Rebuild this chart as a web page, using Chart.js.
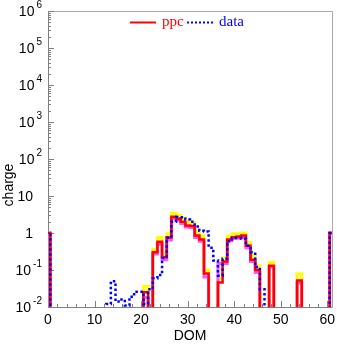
<!DOCTYPE html>
<html>
<head>
<meta charset="utf-8">
<script src="https://cdn.jsdelivr.net/npm/chart.js@4.4.0/dist/chart.umd.min.js"></script>
<style>
  html, body { margin: 0; padding: 0; background: #fff; }
  canvas { display: block; }
</style>
</head>
<body>
<canvas id="domChart" width="337" height="344"></canvas>
<script>
// DOM number of each bin (bin i spans i-0.5 .. i+0.5)
const doms = [
  0, 1, 2, 3, 4, 5, 6, 7, 8, 9,
  10, 11, 12, 13, 14, 15, 16, 17, 18, 19,
  20, 21, 22, 23, 24, 25, 26, 27, 28, 29,
  30, 31, 32, 33, 34, 35, 36, 37, 38, 39,
  40, 41, 42, 43, 44, 45, 46, 47, 48, 49,
  50, 51, 52, 53, 54, 55, 56, 57, 58, 59,
  60, 61
];

// ppc (red)
const ppc = [
  1, 0, 0, 0, 0, 0, 0, 0, 0, 0,
  0, 0, 0, 0, 0, 0, 0, 0, 0, 0,
  0, 0.025, 0, 0.30, 0.58, 0.22, 0.75, 2.75, 2.4, 2.0,
  1.6, 1.55, 0.85, 0.67, 0.08, 0, 0, 0.046, 0.17, 0.67,
  0.77, 0.8, 0.85, 0.45, 0.19, 0.1, 0, 0, 0.13, 0,
  0, 0, 0, 0, 0.052, 0, 0, 0, 0, 0,
  0, 1
];

// upper ppc variation (yellow)
const ppcHigh = [
  1, 0, 0, 0, 0, 0, 0, 0, 0, 0,
  0, 0, 0, 0, 0, 0, 0, 0, 0, 0,
  0, 0.036, 0, 0.36, 0.75, 0.27, 0.95, 3.4, 3.0, 2.5,
  2.0, 1.9, 1.1, 0.82, 0.1, 0, 0, 0.06, 0.21, 0.8,
  0.95, 0.95, 1.0, 0.55, 0.25, 0.13, 0, 0, 0.16, 0,
  0, 0, 0, 0, 0.078, 0, 0, 0, 0, 0,
  0, 1
];

// lower ppc variation (magenta)
const ppcLow = [
  1, 0, 0, 0, 0, 0, 0, 0, 0, 0,
  0, 0, 0, 0, 0, 0, 0, 0, 0, 0,
  0, 0.018, 0, 0.27, 0.5, 0.19, 0.65, 2.5, 2.2, 1.8,
  1.45, 1.4, 0.75, 0.6, 0.065, 0, 0, 0.15, 0.15, 0.62,
  0.72, 0.72, 0.75, 0.4, 0.17, 0.085, 0, 0, 0.12, 0,
  0, 0, 0, 0, 0.045, 0, 0, 0, 0, 0,
  0, 1
];

// data (blue dotted)
const data = [
  1, 0, 0, 0, 0, 0, 0, 0, 0, 0,
  0, 0, 0, 0.012, 0.05, 0.014, 0.016, 0.011, 0.019, 0.026,
  0.026, 0.012, 0.03, 0.06, 0.073, 0.21, 0.74, 2.0, 2.7, 2.65,
  2.3, 2.0, 1.5, 1.15, 1.1, 0.4, 0.18, 0.07, 0.2, 0.6,
  0.73, 0.73, 0.7, 0.45, 0.3, 0.12, 0.03, 0, 0, 0,
  0, 0, 0, 0, 0, 0, 0, 0, 0, 0,
  0, 1
];

// axis ticks
const xMajorTicks = [0, 10, 20, 30, 40, 50, 60];
const yExponents = [-2, -1, 0, 1, 2, 3, 4, 5, 6];

const axisFont = "14px 'Liberation Sans', Arial, sans-serif";
const expFont = "10px 'Liberation Sans', Arial, sans-serif";

// turn bin contents into a step outline; empty bins go below the axis
function steps(values) {
  const pts = [];
  values.forEach(function (v, i) {
    const y = v > 0 ? v : 1e-4;
    pts.push({ x: doms[i] - 0.5, y: y }, { x: doms[i] + 0.5, y: y });
  });
  return pts;
}

// frame, ticks and tick labels
const axesPlugin = {
  id: "axesPlugin",
  beforeDatasetsDraw: function (chart) {
    const ctx = chart.ctx;
    const a = chart.chartArea;
    const xs = chart.scales.x;
    const ys = chart.scales.y;
    ctx.save();
    ctx.lineWidth = 1;

    // top and right frame
    ctx.strokeStyle = "#a8a8a8";
    ctx.beginPath();
    ctx.moveTo(a.left, a.top + 0.5);
    ctx.lineTo(a.right + 0.5, a.top + 0.5);
    ctx.lineTo(a.right + 0.5, a.bottom);
    ctx.stroke();

    // left and bottom axis
    ctx.strokeStyle = "#808080";
    ctx.beginPath();
    ctx.moveTo(a.left + 0.5, a.top);
    ctx.lineTo(a.left + 0.5, a.bottom + 0.5);
    ctx.lineTo(a.right + 0.5, a.bottom + 0.5);
    ctx.stroke();

    // x ticks
    ctx.beginPath();
    for (let v = 0; v <= 60; v += 2) {
      const px = Math.round(xs.getPixelForValue(v)) + 0.5;
      const len = v % 10 === 0 ? 6 : 3;
      ctx.moveTo(px, a.bottom);
      ctx.lineTo(px, a.bottom - len);
    }
    // y ticks
    yExponents.forEach(function (k) {
      const py = Math.round(ys.getPixelForValue(Math.pow(10, k))) + 0.5;
      ctx.moveTo(a.left, py);
      ctx.lineTo(a.left + 6, py);
      if (k < 6) {
        for (let m = 2; m <= 9; m++) {
          const pm = Math.round(ys.getPixelForValue(m * Math.pow(10, k))) + 0.5;
          ctx.moveTo(a.left, pm);
          ctx.lineTo(a.left + 3, pm);
        }
      }
    });
    ctx.stroke();

    // x tick labels
    ctx.fillStyle = "#000";
    ctx.font = axisFont;
    ctx.textAlign = "center";
    ctx.textBaseline = "middle";
    xMajorTicks.forEach(function (v) {
      ctx.fillText(String(v), xs.getPixelForValue(v), a.bottom + 13);
    });

    // y tick labels: 1, 10 and 10 with raised exponent
    yExponents.forEach(function (k) {
      const py = ys.getPixelForValue(Math.pow(10, k));
      ctx.textBaseline = "middle";
      if (k === 0 || k === 1) {
        ctx.font = axisFont;
        ctx.textAlign = "right";
        ctx.fillText(k === 0 ? "1" : "10", 33, py + 1);
      } else {
        const exp = String(k);
        ctx.font = expFont;
        ctx.textAlign = "right";
        ctx.fillText(exp, 42, py - 6);
        const w = ctx.measureText(exp).width;
        ctx.font = axisFont;
        ctx.fillText("10", 42 - w - 2, py + 1);
      }
    });

    // axis titles
    ctx.font = axisFont;
    ctx.textAlign = "center";
    ctx.textBaseline = "middle";
    ctx.fillText("DOM", (a.left + a.right) / 2, 336);
    ctx.save();
    ctx.translate(9, 185);
    ctx.rotate(-Math.PI / 2);
    ctx.fillText("charge", 0, 0);
    ctx.restore();

    ctx.restore();
  },
  afterDraw: function (chart) {
    // legend inside the frame
    const ctx = chart.ctx;
    const a = chart.chartArea;
    const y = a.top + 11.5;
    ctx.save();
    ctx.lineWidth = 2;
    ctx.strokeStyle = "#ff0000";
    ctx.beginPath();
    ctx.moveTo(a.left + 82, y);
    ctx.lineTo(a.left + 108, y);
    ctx.stroke();
    ctx.strokeStyle = "#0000ff";
    ctx.setLineDash([2, 2]);
    ctx.beginPath();
    ctx.moveTo(a.left + 139, y);
    ctx.lineTo(a.left + 165, y);
    ctx.stroke();
    ctx.setLineDash([]);
    ctx.font = "15px 'Liberation Serif', 'Times New Roman', serif";
    ctx.textBaseline = "alphabetic";
    ctx.textAlign = "left";
    ctx.fillStyle = "#ff0000";
    ctx.fillText("ppc", a.left + 114, y + 3);
    ctx.fillStyle = "#0000ff";
    ctx.fillText("data", a.left + 171, y + 3);
    ctx.restore();
  }
};

document.addEventListener("DOMContentLoaded", function () {
  const ctx = document.getElementById("domChart");
  new Chart(ctx, {
    type: "line",
    data: {
      datasets: [
        {
          label: "data",
          data: steps(data),
          borderColor: "#0000ff",
          borderWidth: 2.5,
          borderDash: [2.5, 2.5],
          pointRadius: 0,
          tension: 0
        },
        {
          label: "ppc",
          data: steps(ppc),
          borderColor: "#ff0000",
          borderWidth: 2.5,
          pointRadius: 0,
          tension: 0
        },
        {
          label: "ppc low",
          data: steps(ppcLow),
          borderColor: "#ff55ff",
          borderWidth: 3,
          pointRadius: 0,
          tension: 0
        },
        {
          label: "ppc high",
          data: steps(ppcHigh),
          borderColor: "#ffff00",
          borderWidth: 3,
          pointRadius: 0,
          tension: 0
        }
      ]
    },
    options: {
      responsive: false,
      animation: false,
      layout: { padding: { left: 48, top: 11, right: 5, bottom: 37 } },
      plugins: {
        legend: { display: false },
        tooltip: { enabled: false }
      },
      scales: {
        x: { type: "linear", min: 0, max: 61, display: false },
        y: { type: "logarithmic", min: 0.01, max: 1e6, display: false }
      }
    },
    plugins: [axesPlugin]
  });
});
</script>
</body>
</html>
